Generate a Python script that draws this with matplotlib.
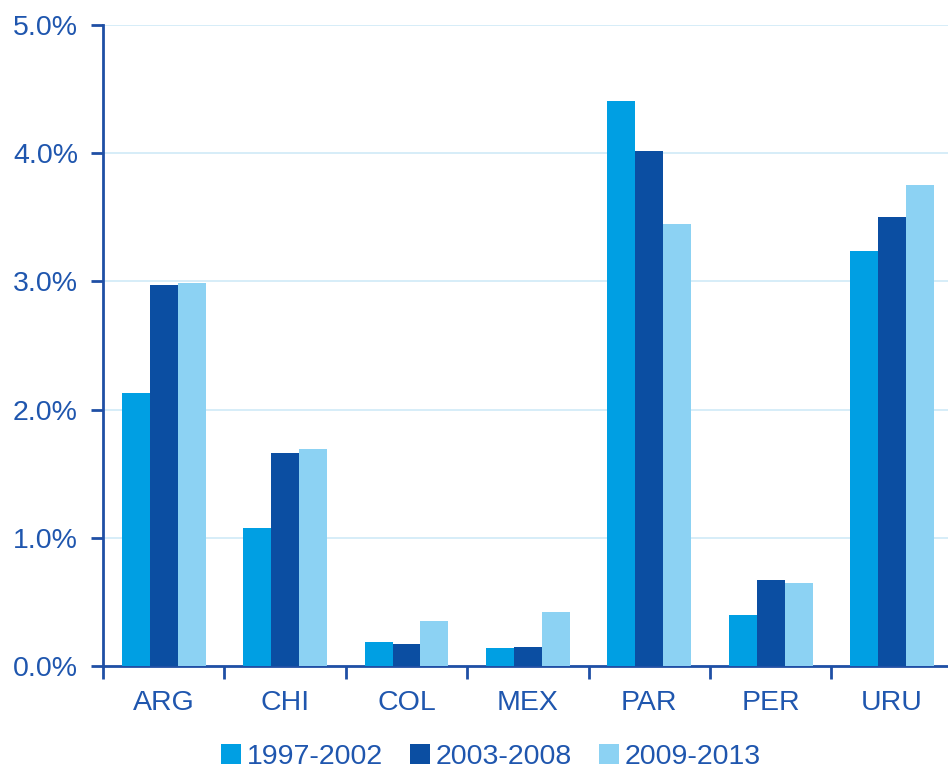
import matplotlib
matplotlib.use("Agg")
import matplotlib.pyplot as plt
import numpy as np
from matplotlib.ticker import FuncFormatter, FixedLocator
from matplotlib.patches import Patch

categories = ["ARG", "CHI", "COL", "MEX", "PAR", "PER", "URU"]
series_names = ["1997-2002", "2003-2008", "2009-2013"]
s1 = [2.13, 1.08, 0.19, 0.14, 4.41, 0.40, 3.24]
s2 = [2.97, 1.66, 0.17, 0.15, 4.02, 0.67, 3.50]
s3 = [2.99, 1.69, 0.35, 0.42, 3.45, 0.65, 3.75]
colors = ["#009FE3", "#0B4EA2", "#8CD2F3"]
text_color = "#1F56AE"
axis_color = "#1F4FA5"

plt.rcParams['font.family'] = ['Liberation Sans', 'DejaVu Sans']

fig = plt.figure(figsize=(9.48, 7.69), dpi=100)
ax = fig.add_axes([103/948, 1-666/769, 1-103/948, (666-25)/769])

x = np.arange(len(categories))
w = 0.23
for i, (vals, c) in enumerate(zip([s1, s2, s3], colors)):
    ax.bar(x + (i-1)*w, vals, width=w, color=c, zorder=3)

ax.set_ylim(0, 5)
ax.set_xlim(-0.5, 6.46)
ax.set_yticks([0, 1, 2, 3, 4, 5])
ax.yaxis.set_major_formatter(FuncFormatter(lambda v, p: f"{v:.1f}%"))
ax.grid(axis='y', color='#D3ECF8', linewidth=1.3, zorder=0)
ax.set_xticks(x)
ax.set_xticklabels(categories)
ax.xaxis.set_minor_locator(FixedLocator(np.arange(-0.5, 6.5, 1)))
ax.tick_params(axis='x', which='major', length=0, pad=17, labelsize=20.5, labelcolor=text_color)
ax.tick_params(axis='x', which='minor', length=9, width=2, color=axis_color, direction='out')
ax.tick_params(axis='y', length=9, width=2, color=axis_color, labelsize=20.5, labelcolor=text_color, pad=9)

for s in ['top', 'right']:
    ax.spines[s].set_visible(False)
for s in ['left', 'bottom']:
    ax.spines[s].set_color(axis_color)
    ax.spines[s].set_linewidth(2)

handles = [Patch(facecolor=c, label=n) for c, n in zip(colors, series_names)]
leg = fig.legend(handles=handles, loc='center', bbox_to_anchor=(0.518, 1-757/769),
                 ncol=3, frameon=False, fontsize=20.5, handlelength=0.7, handleheight=0.7,
                 handletextpad=0.2, columnspacing=0.95, borderaxespad=0)
for t in leg.get_texts():
    t.set_color(text_color)

fig.savefig("out.png", dpi=100)
